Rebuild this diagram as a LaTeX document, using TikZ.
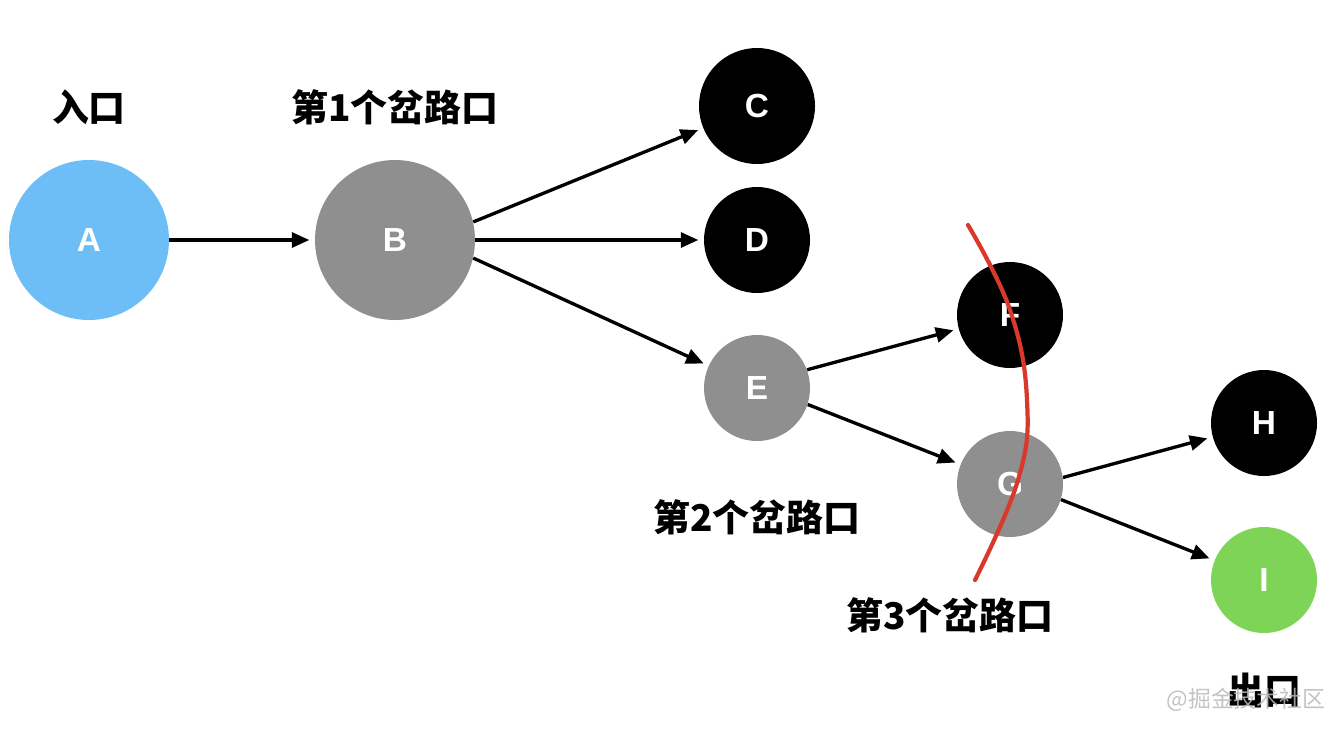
\documentclass[tikz,border=0pt]{standalone}
\usepackage{fontspec}
\setsansfont{Liberation Sans}
\newfontfamily\cjk{Noto Sans CJK SC}
\usepackage{xcolor}
\usetikzlibrary{positioning,arrows.meta}

\definecolor{entryblue}{HTML}{6DBDF6}
\definecolor{forkgray}{HTML}{8F8F8F}
\definecolor{exitgreen}{HTML}{7ED456}
\definecolor{cutred}{HTML}{D8392B}

\begin{document}
\begin{tikzpicture}[on grid, auto,
    dot/.style={circle, inner sep=0pt, minimum size=2.12cm, text=white,
        font=\sffamily\bfseries\fontsize{19}{21}\selectfont},
    big/.style={dot, minimum size=3.2cm},
    tag/.style={inner sep=0pt, font=\cjk\bfseries\fontsize{21}{25}\selectfont},
    link/.style={-{Triangle[length=10pt,width=8.5pt]}, line width=1.9pt,
        shorten >=3pt},
    cut/.style={draw=cutred, line width=2.4pt, line cap=round}]

    \useasboundingbox (0,0) rectangle (26.88,-14.92);

    \node[big, fill=entryblue] (A) at (1.78,-4.80) {A};
    \node[big, fill=forkgray] (B) [right=6.12cm of A] {B};
    \node[dot, fill=black, minimum size=2.32cm] (C) [above right=2.68cm and 7.24cm of B] {C};
    \node[dot, fill=black] (D) [right=7.24cm of B] {D};
    \node[dot, fill=forkgray] (E) [below right=2.96cm and 7.24cm of B] {E};
    \node[dot, fill=black] (F) [above right=1.46cm and 5.06cm of E] {F};
    \node[dot, fill=forkgray] (G) [below right=1.92cm and 5.06cm of E] {G};
    \node[dot, fill=black] (H) [above right=1.22cm and 5.08cm of G] {H};
    \node[dot, fill=exitgreen] (I) [below right=1.92cm and 5.08cm of G] {I};

    \node[tag] (in) [above=2.66cm of A] {入口};
    \node[tag] (fork1) [above=2.66cm of B] {第1个岔路口};
    \node[tag] (fork2) [below=2.58cm of E] {第2个岔路口};
    \node[tag] (fork3) [below left=2.62cm and 1.2cm of G] {第3个岔路口};
    \node[tag] (out) [below=2.2cm of I] {出口};

    \path[link]
        (A) edge (B)
        (B.13) edge (C)
        (B) edge (D)
        (B.-13) edge (E)

        (E.20) edge (F)
        (E.-18) edge (G)

        (G.7) edge (H)
        (G.-17) edge (I);

    \draw[cut] plot[smooth, tension=0.7] coordinates
        {(19.36,-4.50) (20.20,-6.20) (20.54,-8.00) (20.36,-9.60) (19.50,-11.60)};

    \node[font=\cjk\fontsize{13}{15}\selectfont, text=gray!55, opacity=.85] (mark)
        at (24.92,-14.00) {@掘金技术社区};

\end{tikzpicture}
\end{document}
